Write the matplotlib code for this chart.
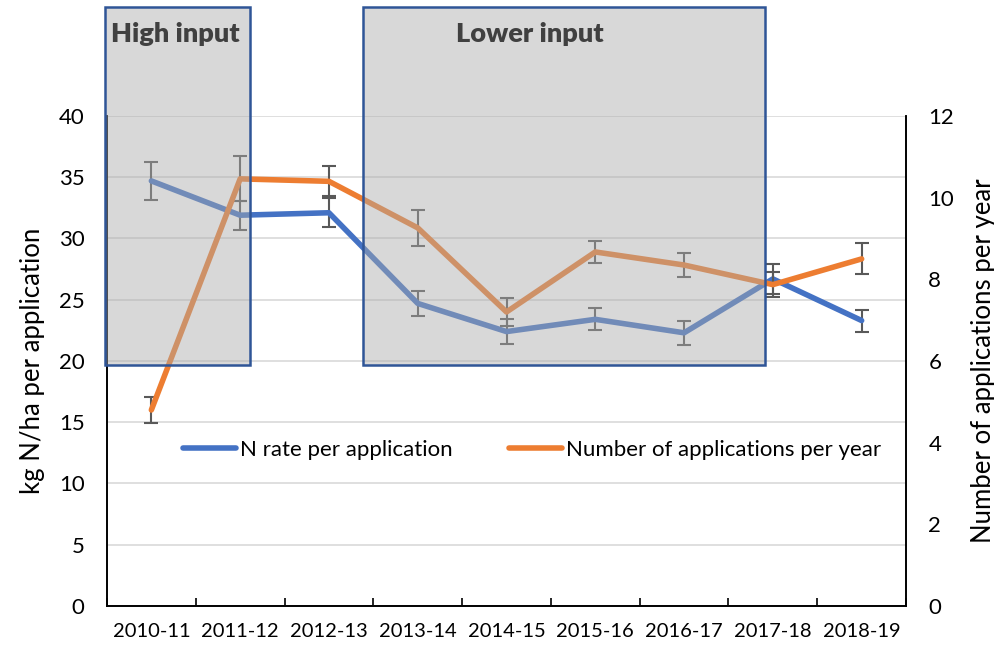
import numpy as np
import matplotlib.pyplot as plt
from matplotlib.patches import Rectangle
from matplotlib.lines import Line2D

seasons = ['2010-11', '2011-12', '2012-13', '2013-14', '2014-15',
           '2015-16', '2016-17', '2017-18', '2018-19']
n_rate = [34.7, 31.9, 32.1, 24.7, 22.4, 23.4, 22.3, 26.7, 23.3]
n_rate_err = [1.55, 1.2, 1.2, 1.0, 1.0, 0.9, 1.0, 1.2, 0.9]
n_apps = [4.8, 10.46, 10.4, 9.26, 7.2, 8.67, 8.35, 7.87, 8.5]
n_apps_err = [0.33, 0.55, 0.37, 0.44, 0.35, 0.28, 0.3, 0.3, 0.38]
periods = ['High input', 'Lower input']
series_names = ['N rate per application', 'Number of applications per year']

plt.rcParams['font.family'] = ['Lato', 'DejaVu Sans']

fig = plt.figure(figsize=(9.95, 6.52), dpi=100)
ax1 = fig.add_axes([0.1075, 0.0706, 0.8031, 0.7515])
ax2 = ax1.twinx()

x = np.arange(len(seasons))
blue = '#4472C4'
orange = '#ED7D31'
ecol = '#595959'

ax1.errorbar(x, n_rate, yerr=n_rate_err, color=blue, lw=4, ecolor=ecol,
             elinewidth=1.5, capsize=5, capthick=1.5, solid_capstyle='round',
             zorder=3)
ax2.errorbar(x, n_apps, yerr=n_apps_err, color=orange, lw=4, ecolor=ecol,
             elinewidth=1.5, capsize=5, capthick=1.5, solid_capstyle='round',
             zorder=3)

ax1.set_xlim(-0.5, 8.5)
ax1.set_ylim(0, 40)
ax2.set_ylim(0, 12)
ax1.set_yticks(np.arange(0, 41, 5))
ax2.set_yticks(np.arange(0, 13, 2))
ax1.set_xticks(x)
ax1.set_xticklabels(seasons)
ax1.set_xticks(np.arange(-0.5, 9, 1), minor=True)
ax1.tick_params(axis='x', which='major', length=0, pad=12, labelsize=14.5)
ax1.tick_params(axis='x', which='minor', length=6, direction='in', width=1.2)
ax1.tick_params(axis='y', length=0, pad=16, labelsize=16)
ax2.tick_params(axis='y', length=0, pad=16, labelsize=16)

ax1.grid(axis='y', color='#D9D9D9', lw=1.2)
ax1.set_axisbelow(True)
for ax in (ax1, ax2):
    ax.spines['top'].set_visible(False)
    for s in ('left', 'right', 'bottom'):
        ax.spines[s].set_linewidth(1.2)
        ax.spines[s].set_color('black')

ax1.set_ylabel('kg N/ha per application', fontsize=18.5, labelpad=10)
ax2.set_ylabel('Number of applications per year', fontsize=18.5, labelpad=12)

# shaded period boxes (in left-axis units)
boxes = [(-0.52, 1.11), (2.38, 6.91)]
for (x0, x1), name in zip(boxes, periods):
    r = Rectangle((x0, 19.67), x1 - x0, 29.2, transform=ax1.transData,
                  facecolor='#AAAAAA', alpha=0.45, edgecolor='none',
                  zorder=10, clip_on=False)
    ax2.add_patch(r)
    e = Rectangle((x0, 19.67), x1 - x0, 29.2, transform=ax1.transData,
                  facecolor='none', edgecolor='#2F5597', lw=1.8,
                  zorder=11, clip_on=False)
    ax2.add_patch(e)
    if name == 'High input':
        tx, ha = x0 + 0.07, 'left'
    else:
        tx, ha = (x0 + x1) / 2 - 0.385, 'center'
    ax2.text(tx, 46.7, name, transform=ax1.transData, ha=ha, va='center',
             fontsize=19.5, fontweight='heavy', color='#404040', zorder=12)

handles = [Line2D([], [], color=blue, lw=4, solid_capstyle='round'),
           Line2D([], [], color=orange, lw=4, solid_capstyle='round')]
ax2.legend(handles, series_names, loc='center', bbox_to_anchor=(0.532, 0.318),
           ncol=2, frameon=False, fontsize=16, handlelength=2.4,
           handletextpad=0.2, columnspacing=2.5)

fig.savefig('out.png', dpi=100)
